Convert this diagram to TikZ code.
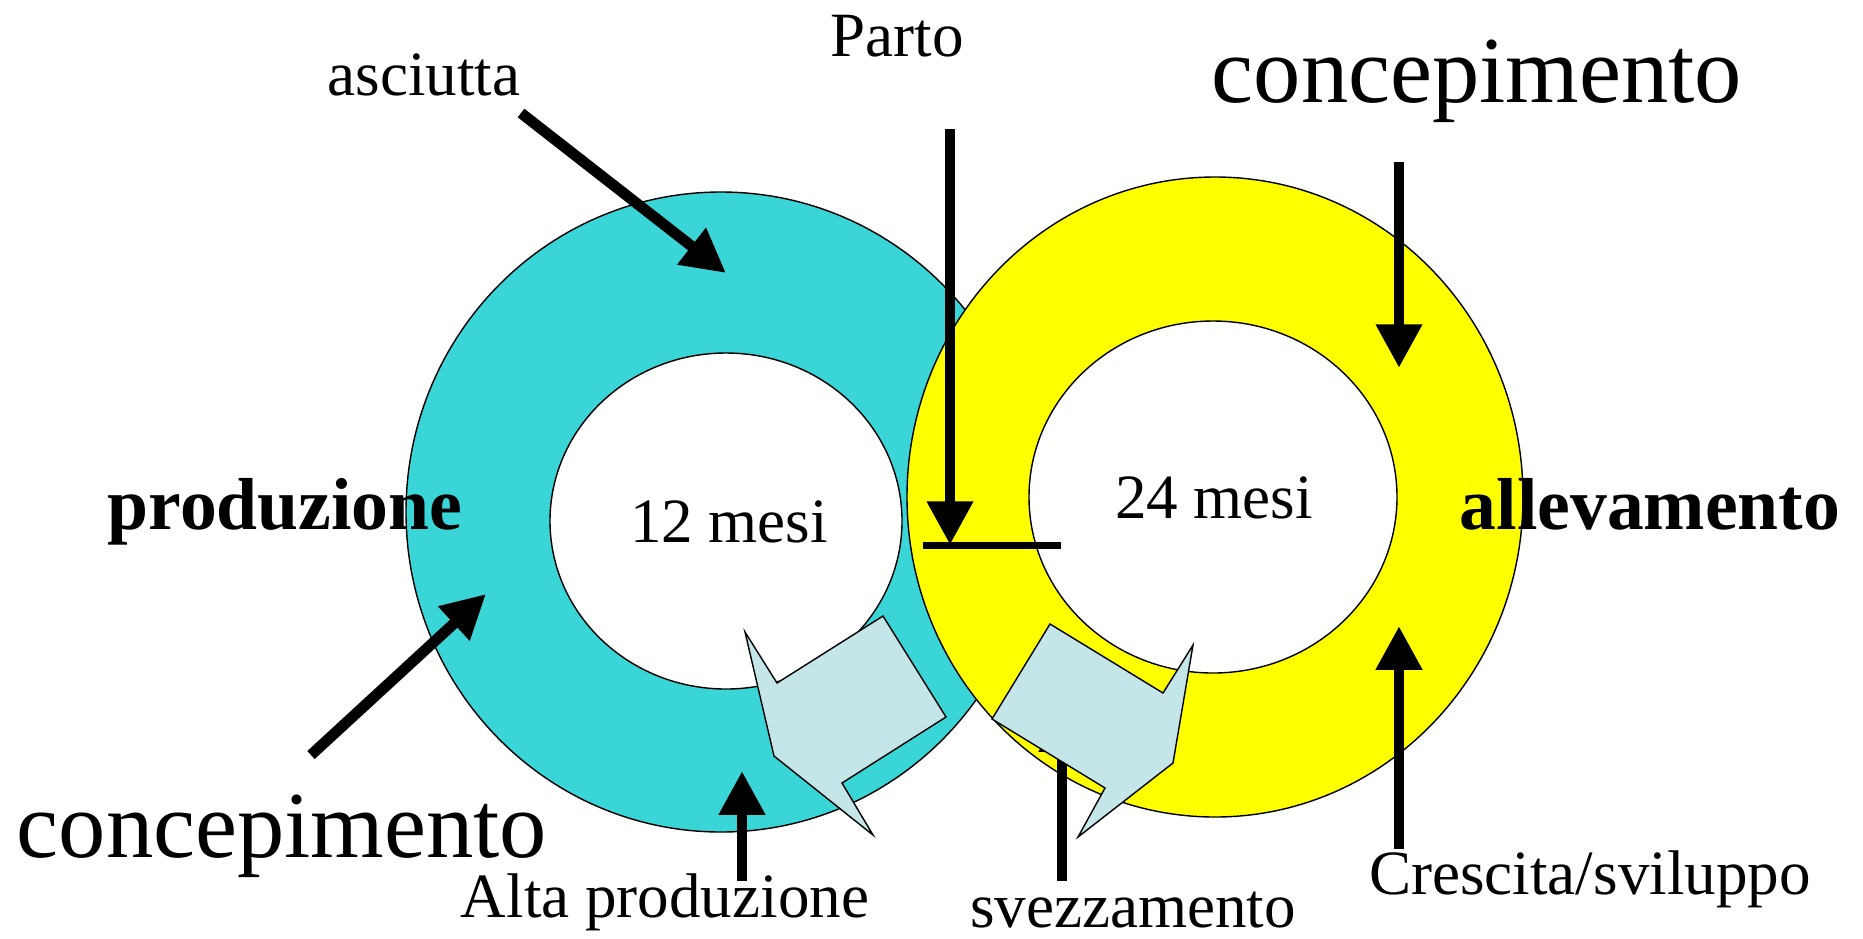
\documentclass[tikz,border=0pt]{standalone}
\usepackage{fontspec}
\setmainfont{Liberation Serif}
\usetikzlibrary{arrows.meta}
\definecolor{ringcyan}{RGB}{58,213,214}
\definecolor{ringyellow}{RGB}{255,255,0}
\definecolor{paleblue}{RGB}{197,230,232}
\begin{document}
\begin{tikzpicture}[x=0.02cm,y=-0.02cm,
  outline/.style={draw=black,line width=0.8pt},
  bigarrow/.style={line width=6.2pt,-{Triangle[length=24.9pt,width=24.9pt]}},
  crossbar/.style={line width=4pt},
  lbl/.style={anchor=base,inner sep=0pt,font=\fontsize{35.9}{40}\selectfont},
  biglbl/.style={anchor=base,inner sep=0pt,font=\fontsize{53.8}{60}\selectfont},
  boldlbl/.style={anchor=base,inner sep=0pt,font=\fontsize{41.9}{48}\selectfont\bfseries}]
\useasboundingbox (0,0) rectangle (1863,938);
% rings
\fill[white] (0,0) rectangle (1863,938);
\path[outline,fill=ringcyan] (721,512) ellipse [x radius=315, y radius=320];
\path[outline,fill=white] (726,521) ellipse [x radius=176, y radius=168];
\path[outline,fill=ringyellow] (1215,497) ellipse [x radius=308, y radius=320];
\path[outline,fill=white] (1213,497) ellipse [x radius=184, y radius=176];
% labels
\node[lbl] (parto) at (897,56) {Parto};
\node[lbl] (asciutta) at (424,95) {asciutta};
\node[biglbl] (conc1) at (1477,102) {concepimento};
\node[boldlbl] (produzione) at (285,529) {produzione};
\node[lbl] (mesi12) at (729,542) {12 mesi};
\node[lbl] (mesi24) at (1214,518) {24 mesi};
\node[boldlbl] (allevamento) at (1650,529) {allevamento};
\node[biglbl] (conc2) at (282,857) {concepimento};
\node[lbl] (alta) at (665,917) {Alta produzione};
\node[lbl] (svezz) at (1133,927) {svezzamento};
\node[lbl] (crescita) at (1590,894) {Crescita/sviluppo};
% arrow end points
\coordinate (ascS) at (521,113);
\coordinate (ascE) at (726,273);
\coordinate (partoS) at (950,129);
\coordinate (partoE) at (950,545);
\coordinate (barL) at (923,545);
\coordinate (barR) at (1061,545);
\coordinate (concAS) at (1399,162);
\coordinate (concAE) at (1399,368);
\coordinate (concBS) at (311,755);
\coordinate (concBE) at (486,594);
\coordinate (altaS) at (742,881);
\coordinate (altaE) at (742,771);
\coordinate (svezS) at (1062,881);
\coordinate (svezE) at (1062,708);
\coordinate (cresS) at (1399,849);
\coordinate (cresE) at (1399,626);
% svezzamento arrow (beneath the block arrow)
\draw[bigarrow] (svezS) -- (svezE);
% block arrows
\path[outline,fill=paleblue] (745,632) -- (777,683) -- (883,616) -- (946,717)
  -- (842,783) -- (873,835) -- (774,756) -- cycle;
\path[outline,fill=paleblue] (1050,624) -- (1163,693) -- (1193,645) -- (1173,763)
  -- (1078,837) -- (1105,788) -- (992,719) -- cycle;
% black arrows
\draw[bigarrow] (ascS) -- (ascE);
\draw[bigarrow] (partoS) -- (partoE);
\draw[crossbar] (barL) -- (barR);
\draw[bigarrow] (concAS) -- (concAE);
\draw[bigarrow] (concBS) -- (concBE);
\draw[bigarrow] (altaS) -- (altaE);
\draw[bigarrow] (cresS) -- (cresE);
\end{tikzpicture}
\end{document}
